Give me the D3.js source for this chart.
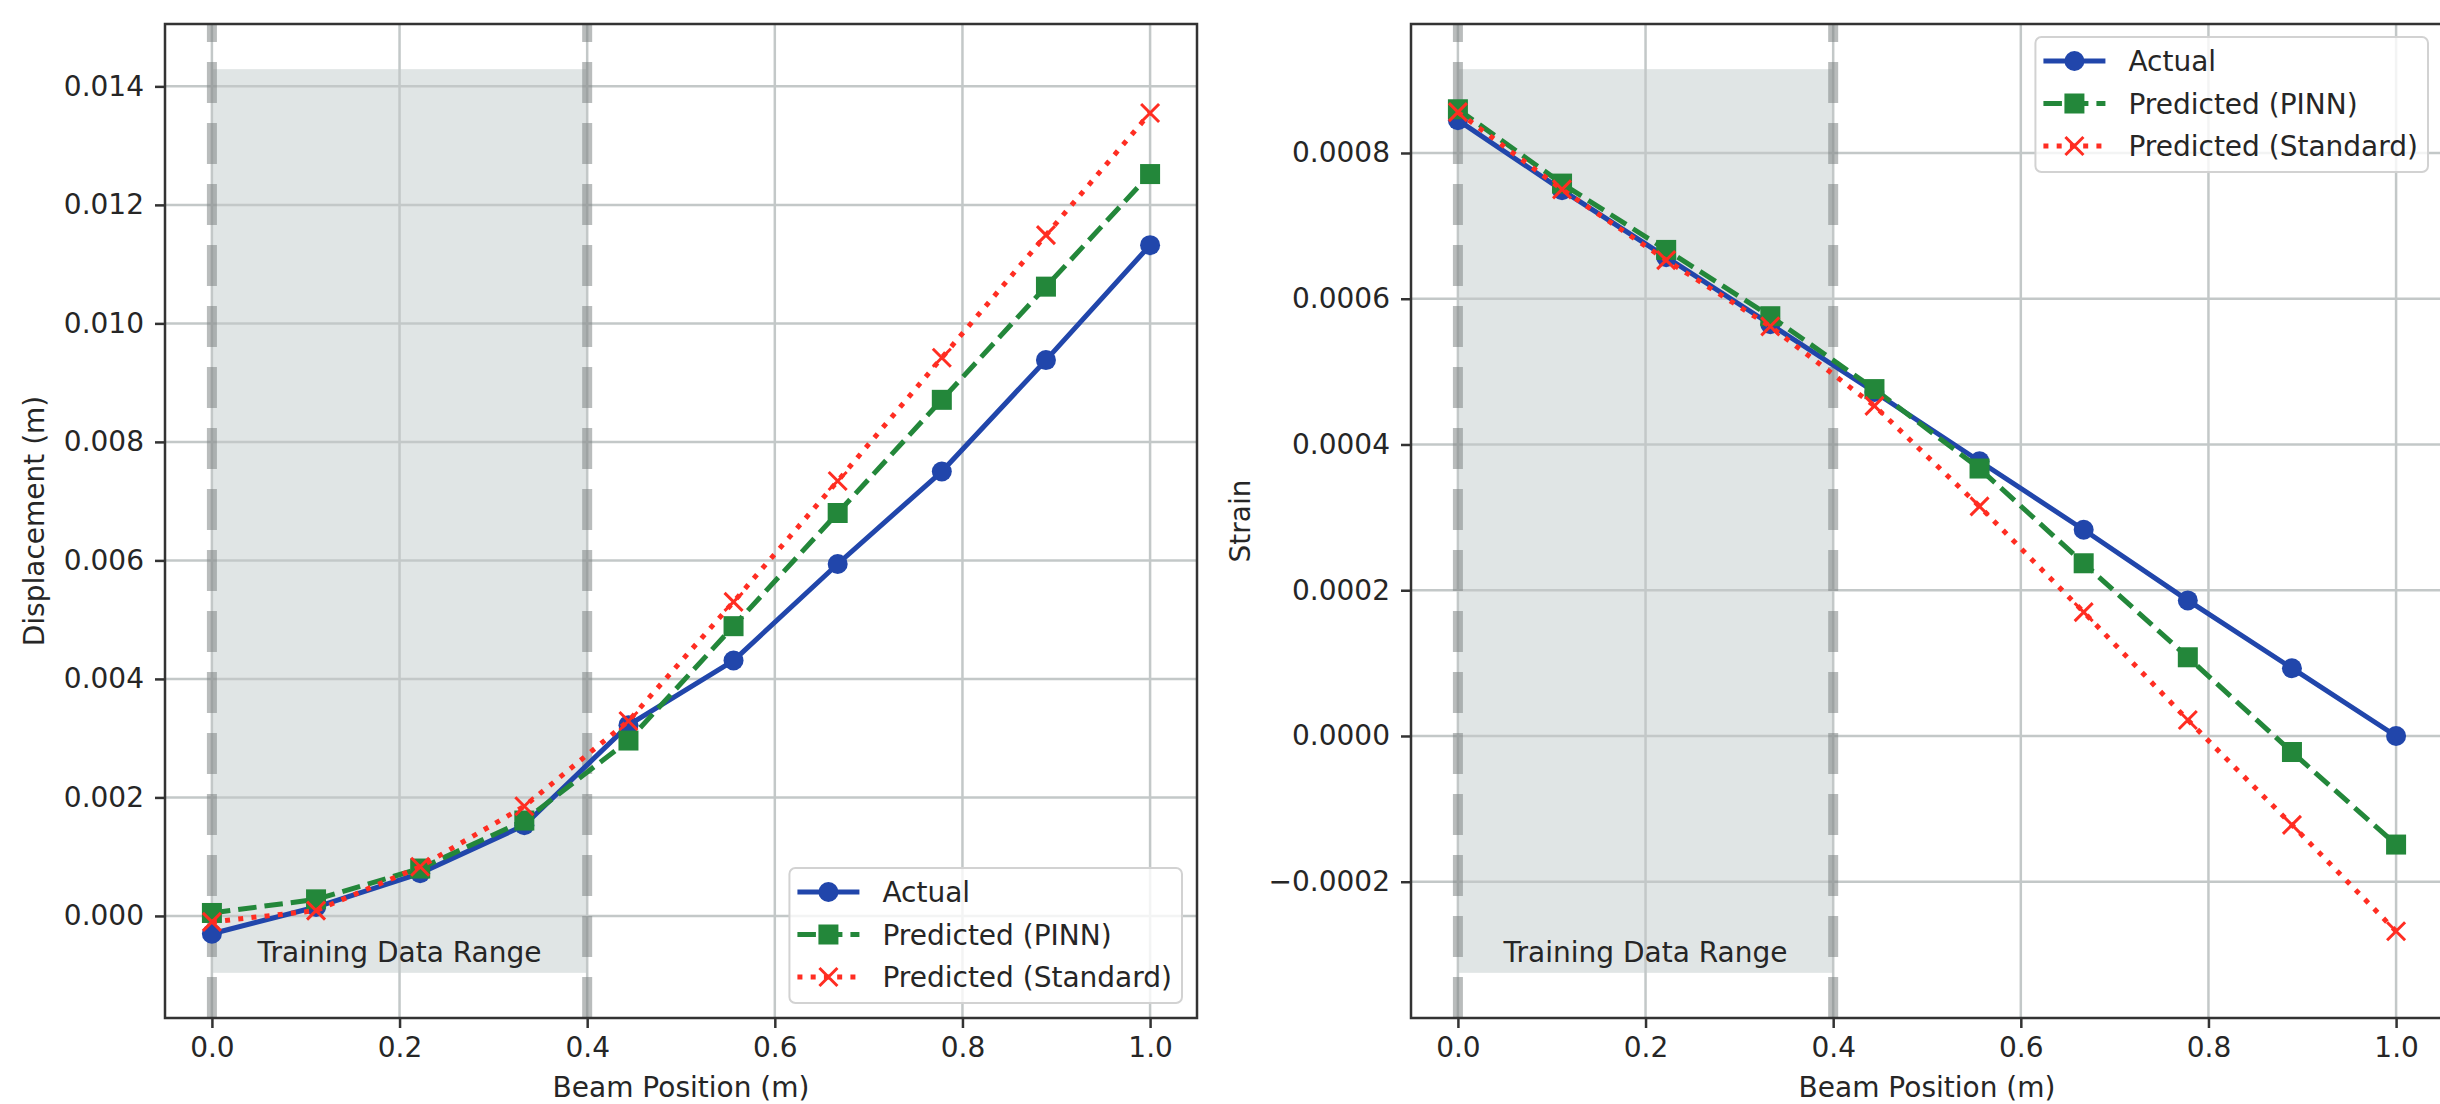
<!DOCTYPE html>
<html>
<head>
<meta charset="utf-8">
<title>Beam displacement and strain</title>
<script src="https://d3js.org/d3.v7.min.js"></script>
<style>
  body { margin: 0; background: #fff; }
  text { font-family: 'DejaVu Sans', sans-serif; fill: #262626; }
</style>
</head>
<body>
<svg id="chart"></svg>
<script>
// values
var beamPos = [0.000, 0.111, 0.222, 0.333, 0.444, 0.556, 0.667, 0.778, 0.889, 1.000];

var dispActual   = [-0.00030, 0.00015, 0.00072, 0.00153, 0.00322, 0.00431, 0.00594, 0.00750, 0.00938, 0.01132];
var dispPinn     = [0.00005, 0.00028, 0.00080, 0.00161, 0.00296, 0.00489, 0.00680, 0.00871, 0.01062, 0.01252];
var dispStandard = [-0.00010, 0.00009, 0.00083, 0.00185, 0.00329, 0.00530, 0.00734, 0.00942, 0.01149, 0.01355];

var strainActual   = [0.000845, 0.000749, 0.000657, 0.000565, 0.000472, 0.000377, 0.000283, 0.000186, 0.000093, 0.000000];
var strainPinn     = [0.000860, 0.000758, 0.000667, 0.000576, 0.000476, 0.000367, 0.000237, 0.000108, -0.000022, -0.000149];
var strainStandard = [0.000856, 0.000750, 0.000653, 0.000562, 0.000453, 0.000315, 0.000170, 0.000022, -0.000122, -0.000268];

var seriesNames = ["Actual", "Predicted (PINN)", "Predicted (Standard)"];
var xTicks = [0, 0.2, 0.4, 0.6, 0.8, 1.0];
var dispTicks = [0, 0.002, 0.004, 0.006, 0.008, 0.010, 0.012, 0.014];
var strainTicks = [-0.0002, 0, 0.0002, 0.0004, 0.0006, 0.0008];
var trainRange = [0, 0.4];
var dispBand = [-0.00096, 0.01429];
var strainBand = [-0.000325, 0.000915];

var W = 2440, H = 1104;
var svg = d3.select('#chart').attr('width', W).attr('height', H);

var styles = [
    {color: '#2146ab', dash: null, marker: 'circle'},
    {color: '#23873a', dash: '18.5,8', marker: 'square'},
    {color: '#ff2d22', dash: '5,8.25', marker: 'x'}
];

function drawMarker(g, kind, cx, cy, color) {
    if (kind == 'circle') {
        g.append('circle').attr('cx', cx).attr('cy', cy).attr('r', 10).attr('fill', color);
    } else if (kind == 'square') {
        g.append('rect').attr('x', cx - 10).attr('y', cy - 10)
            .attr('width', 20).attr('height', 20).attr('fill', color);
    } else {
        var s = 9;
        g.append('path')
            .attr('d', 'M' + (cx - s) + ',' + (cy - s) + 'L' + (cx + s) + ',' + (cy + s) +
                       'M' + (cx - s) + ',' + (cy + s) + 'L' + (cx + s) + ',' + (cy - s))
            .attr('stroke', color).attr('stroke-width', 3).attr('fill', 'none');
    }
}

function drawPanel(p) {
    var left = p.left, right = p.right, top = 24, bottom = 1018;
    var pad = (p.band[1] - p.band[0]) * 0.05;
    var x = d3.scaleLinear().domain([-0.05, 1.05]).range([left, right]);
    var y = d3.scaleLinear().domain([p.band[0] - pad, p.band[1] + pad]).range([bottom, top]);

    var g = svg.append('g');
    var clipId = 'clip' + p.id;
    g.append('clipPath').attr('id', clipId).append('rect')
        .attr('x', left).attr('y', top).attr('width', right - left).attr('height', bottom - top);
    var plot = g.append('g').attr('clip-path', 'url(#' + clipId + ')');

    // training range shading
    plot.append('rect')
        .attr('x', x(trainRange[0])).attr('width', x(trainRange[1]) - x(trainRange[0]))
        .attr('y', y(p.band[1])).attr('height', y(p.band[0]) - y(p.band[1]))
        .attr('fill', '#e0e5e5');

    // grid
    plot.selectAll('.gx').data(xTicks).enter().append('line')
        .attr('x1', d => x(d)).attr('x2', d => x(d)).attr('y1', top).attr('y2', bottom)
        .attr('stroke', '#c3c8c8').attr('stroke-width', 2.5);
    plot.selectAll('.gy').data(p.ticks).enter().append('line')
        .attr('y1', d => y(d)).attr('y2', d => y(d)).attr('x1', left).attr('x2', right)
        .attr('stroke', '#c3c8c8').attr('stroke-width', 2.5);

    // dashed boundaries of the training range
    plot.selectAll('.vb').data(trainRange).enter().append('line')
        .attr('x1', d => x(d)).attr('x2', d => x(d)).attr('y1', bottom).attr('y2', top)
        .attr('stroke', '#7f8585').attr('stroke-opacity', 0.55)
        .attr('stroke-width', 10).attr('stroke-dasharray', '41,20');

    plot.append('text')
        .attr('x', x((trainRange[0] + trainRange[1]) / 2)).attr('y', y(p.band[0]) - 11)
        .attr('text-anchor', 'middle').attr('font-size', 28)
        .text('Training Data Range');

    // series
    var line = d3.line().x((d, i) => x(beamPos[i])).y(d => y(d));
    p.series.forEach(function(vals, k) {
        var st = styles[k];
        plot.append('path').datum(vals)
            .attr('d', line).attr('fill', 'none')
            .attr('stroke', st.color).attr('stroke-width', 5)
            .attr('stroke-linejoin', 'round')
            .attr('stroke-dasharray', st.dash);
        var mg = plot.append('g');
        vals.forEach(function(v, i) { drawMarker(mg, st.marker, x(beamPos[i]), y(v), st.color); });
    });

    // axes
    var xAxis = g.append('g').attr('transform', 'translate(0,' + bottom + ')')
        .call(d3.axisBottom(x).tickValues(xTicks).tickFormat(d3.format('.1f')).tickSize(10).tickPadding(9));
    var yAxis = g.append('g').attr('transform', 'translate(' + left + ',0)')
        .call(d3.axisLeft(y).tickValues(p.ticks).tickFormat(d3.format(p.fmt)).tickSize(10).tickPadding(11));
    [xAxis, yAxis].forEach(function(a) {
        a.select('.domain').remove();
        a.selectAll('line').attr('stroke', '#333').attr('stroke-width', 2.5);
        a.selectAll('text').attr('font-size', 28).attr('font-family', "'DejaVu Sans', sans-serif")
            .attr('fill', '#262626');
    });

    g.append('rect').attr('x', left).attr('y', top)
        .attr('width', right - left).attr('height', bottom - top)
        .attr('fill', 'none').attr('stroke', '#333').attr('stroke-width', 2.5);

    g.append('text').attr('x', (left + right) / 2).attr('y', 1097)
        .attr('text-anchor', 'middle').attr('font-size', 28).text('Beam Position (m)');
    g.append('text')
        .attr('transform', 'translate(' + p.ylabelX + ',' + ((top + bottom) / 2) + ') rotate(-90)')
        .attr('text-anchor', 'middle').attr('dy', '0.35em').attr('font-size', 28).text(p.ylabel);

    // legend
    var lg = g.append('g');
    var box = lg.append('rect').attr('rx', 6).attr('fill', 'white').attr('fill-opacity', 0.8)
        .attr('stroke', '#d2d2d2').attr('stroke-width', 2);
    var rowH = 42.5, handleW = 62, textGap = 23, boxPad = 8;
    var labels = [];
    seriesNames.forEach(function(name, k) {
        var cy = 24 + k * rowH;
        var st = styles[k];
        lg.append('line').attr('x1', boxPad).attr('x2', boxPad + handleW).attr('y1', cy).attr('y2', cy)
            .attr('stroke', st.color).attr('stroke-width', 5).attr('stroke-dasharray', st.dash);
        drawMarker(lg, st.marker, boxPad + handleW / 2, cy, st.color);
        labels.push(lg.append('text').attr('x', boxPad + handleW + textGap).attr('y', cy)
            .attr('dy', '0.36em').attr('font-size', 28).text(name));
    });
    var tw = d3.max(labels, t => t.node().getComputedTextLength());
    var bw = boxPad + handleW + textGap + tw + 10, bh = 24 + 2 * rowH + 26;
    box.attr('width', bw).attr('height', bh);
    var lx = right - 15 - bw;
    var ly = p.legendTop ? top + 13 : bottom - 15 - bh;
    lg.attr('transform', 'translate(' + lx + ',' + ly + ')');
}

drawPanel({
    id: 'disp', left: 165, right: 1197, band: dispBand, ticks: dispTicks, fmt: '.3f',
    series: [dispActual, dispPinn, dispStandard],
    ylabel: 'Displacement (m)', ylabelX: 34, legendTop: false
});
drawPanel({
    id: 'strain', left: 1411, right: 2443, band: strainBand, ticks: strainTicks, fmt: '.4f',
    series: [strainActual, strainPinn, strainStandard],
    ylabel: 'Strain', ylabelX: 1240, legendTop: true
});
</script>
</body>
</html>
